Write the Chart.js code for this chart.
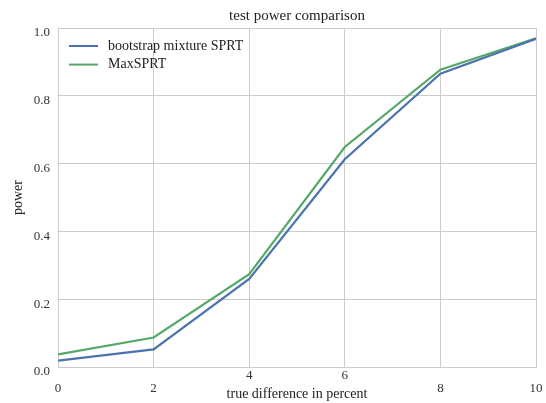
<!DOCTYPE html>
<html>
<head>
<meta charset="utf-8">
<script src="https://cdn.jsdelivr.net/npm/chart.js@4/dist/chart.umd.min.js"></script>
<style>
html,body{margin:0;padding:0;background:#fff;}
#wrap{width:546px;height:403px;}
</style>
</head>
<body>
<div id="wrap"><canvas id="c" width="546" height="403"></canvas></div>
<script>
const xValues = [0, 2, 4, 6, 8, 10];
const bootstrapPower = [0.019, 0.052, 0.26, 0.613, 0.865, 0.968];
const maxSprtPower = [0.037, 0.087, 0.274, 0.649, 0.877, 0.970];
const seriesLabels = ['bootstrap mixture SPRT', 'MaxSPRT'];
const titleText = 'test power comparison';
const xTitle = 'true difference in percent';
const yTitle = 'power';
const yTickLabels = ['0.0', '0.2', '0.4', '0.6', '0.8', '1.0'];

const FONT = "'Liberation Serif', 'Times New Roman', serif";
const colors = ['#4c72b0', '#55a868'];

const legendPlugin = {
  id: 'innerLegend',
  afterDraw(chart) {
    const ctx = chart.ctx;
    const area = chart.chartArea;
    ctx.save();
    chart.data.datasets.forEach((ds, i) => {
      const y = area.top + 18 + i * 18.6;
      ctx.strokeStyle = ds.borderColor;
      ctx.lineWidth = 2;
      ctx.beginPath();
      ctx.moveTo(area.left + 11, y);
      ctx.lineTo(area.left + 40, y);
      ctx.stroke();
      ctx.fillStyle = '#222';
      ctx.font = '14px ' + FONT;
      ctx.textBaseline = 'middle';
      ctx.textAlign = 'left';
      ctx.fillText(ds.label, area.left + 50, y);
    });
    ctx.restore();
  }
};

new Chart(document.getElementById('c'), {
  type: 'line',
  data: {
    datasets: [
      { label: seriesLabels[0], data: xValues.map((x, i) => ({x, y: bootstrapPower[i]})),
        borderColor: colors[0], backgroundColor: colors[0], borderWidth: 2.2, pointRadius: 0, tension: 0 },
      { label: seriesLabels[1], data: xValues.map((x, i) => ({x, y: maxSprtPower[i]})),
        borderColor: colors[1], backgroundColor: colors[1], borderWidth: 2.2, pointRadius: 0, tension: 0 }
    ]
  },
  plugins: [legendPlugin],
  options: {
    responsive: false,
    animation: false,
    layout: { padding: { left: 0, right: 10, top: 0, bottom: 0 } },
    plugins: {
      legend: { display: false },
      tooltip: { enabled: false },
      title: {
        display: true, text: titleText, fullSize: false,
        color: '#222', font: { family: FONT, size: 15, weight: 'normal', lineHeight: 1.2 },
        padding: { top: 7, bottom: 3 }
      }
    },
    scales: {
      x: {
        type: 'linear', min: 0, max: 10,
        afterFit(scale) { scale.height = 36; },
        grid: { color: '#cccccc', lineWidth: 1, drawTicks: false },
        border: { color: '#cccccc', width: 1 },
        ticks: {
          stepSize: 2, padding: 2, color: '#333', maxRotation: 0, autoSkip: false,
          font: { family: FONT, size: 13, lineHeight: 1.0 },
          callback(v) {
            const s = String(v);
            return (v === 4 || v === 6) ? s : ['', s];
          }
        },
        title: {
          display: true, text: xTitle, color: '#222',
          font: { family: FONT, size: 14, lineHeight: 1.2 },
          padding: { top: 0, bottom: 0 }
        }
      },
      y: {
        min: 0, max: 1,
        afterFit(scale) { scale.width = 58; },
        grid: { color: '#cccccc', lineWidth: 1, drawTicks: false },
        border: { color: '#cccccc', width: 1 },
        ticks: {
          stepSize: 0.2, padding: 8, color: '#333', labelOffset: 5,
          font: { family: FONT, size: 13 },
          callback(v, i) { return yTickLabels[i]; }
        },
        title: {
          display: true, text: yTitle, color: '#222',
          font: { family: FONT, size: 14, lineHeight: 1.2 },
          padding: { top: 10, bottom: 0 }
        }
      }
    }
  }
});
</script>
</body>
</html>
